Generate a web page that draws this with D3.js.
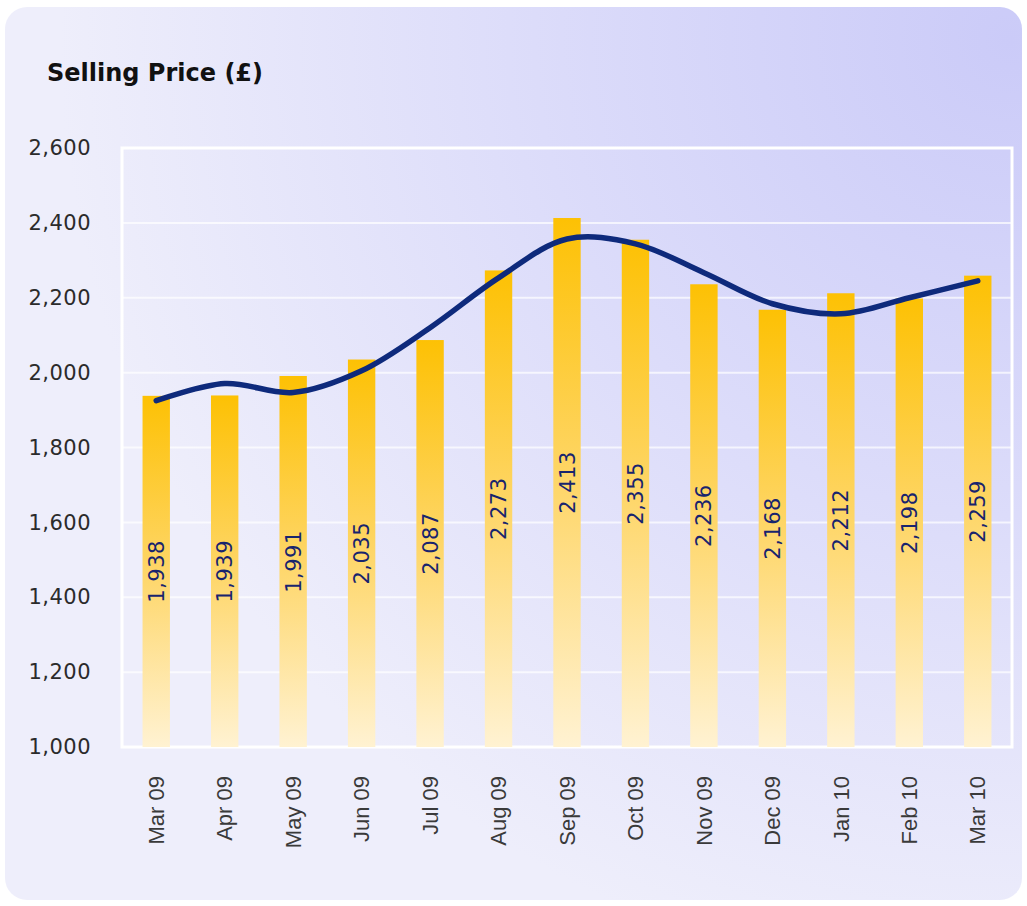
<!DOCTYPE html>
<html>
<head>
<meta charset="utf-8">
<script src="https://cdn.jsdelivr.net/npm/d3@7"></script>
<style>
  body { margin: 0; background: #fff; }
</style>
</head>
<body>
<div id="chart"></div>
<script>
const months = ["Mar 09", "Apr 09", "May 09", "Jun 09", "Jul 09", "Aug 09", "Sep 09",
  "Oct 09", "Nov 09", "Dec 09", "Jan 10", "Feb 10", "Mar 10"];
const prices = [1938, 1939, 1991, 2035, 2087, 2273, 2413, 2355, 2236, 2168, 2212, 2198, 2259];
// smoothed trend line
const trend = [1925, 1971, 1947, 2005, 2120, 2253, 2357, 2344, 2267, 2184, 2157, 2200, 2245];
const yTicks = [1000, 1200, 1400, 1600, 1800, 2000, 2200, 2400, 2600];

const width = 1027, height = 906,
  plot = ({ left: 122, right: 1012, top: 148, bottom: 747 });

const svg = d3.select("#chart")
  .append("svg")
  .attr("width", width)
  .attr("height", height);

const defs = svg.append("defs");

const bg = defs.append("radialGradient")
  .attr("id", "bg")
  .attr("gradientUnits", "userSpaceOnUse")
  .attr("cx", 1010).attr("cy", 40).attr("r", 950);
bg.append("stop").attr("offset", 0).attr("stop-color", "#cbcbf8");
bg.append("stop").attr("offset", 0.5).attr("stop-color", "#dcdcfa");
bg.append("stop").attr("offset", 1).attr("stop-color", "#eeeefb");

const barGrad = defs.append("linearGradient")
  .attr("id", "barGrad")
  .attr("x1", 0).attr("y1", 0).attr("x2", 0).attr("y2", 1);
barGrad.append("stop").attr("offset", 0).attr("stop-color", "#fdc104");
barGrad.append("stop").attr("offset", 0.5).attr("stop-color", "#fed668");
barGrad.append("stop").attr("offset", 1).attr("stop-color", "#fff2d2");

// panel
svg.append("rect")
  .attr("x", 5).attr("y", 7)
  .attr("width", 1017).attr("height", 893)
  .attr("rx", 22)
  .attr("fill", "url(#bg)");

svg.append("text")
  .attr("x", 47).attr("y", 81)
  .attr("font-family", "DejaVu Sans")
  .attr("font-weight", "bold")
  .attr("font-size", 24)
  .attr("fill", "#111")
  .text("Selling Price (£)");

const x = d3.scaleBand()
  .domain(months)
  .range([plot.left, plot.right])
  .paddingInner(0.6)
  .paddingOuter(0.3);

const y = d3.scaleLinear()
  .domain([1000, 2600])
  .range([plot.bottom, plot.top]);

// gridlines
svg.append("g")
  .selectAll("line")
  .data(yTicks.slice(1, -1))
  .join("line")
  .attr("x1", plot.left).attr("x2", plot.right)
  .attr("y1", d => y(d)).attr("y2", d => y(d))
  .attr("stroke", "#fff")
  .attr("stroke-opacity", 0.7)
  .attr("stroke-width", 2);

// frame
svg.append("rect")
  .attr("x", plot.left).attr("y", plot.top)
  .attr("width", plot.right - plot.left)
  .attr("height", plot.bottom - plot.top)
  .attr("fill", "none")
  .attr("stroke", "#fff")
  .attr("stroke-width", 3);

// y axis labels
const yAxis = svg.append("g")
  .attr("transform", `translate(${plot.left - 28},0)`)
  .call(d3.axisLeft(y).tickValues(yTicks).tickSize(0).tickFormat(d3.format(",")));
yAxis.select(".domain").remove();
yAxis.selectAll("text")
  .attr("font-family", "DejaVu Sans")
  .attr("font-size", 21)
  .attr("letter-spacing", 0.5)
  .attr("fill", "#2b2b2b");

// x axis labels
const xAxis = svg.append("g")
  .attr("transform", `translate(0,${plot.bottom})`)
  .call(d3.axisBottom(x).tickSize(0));
xAxis.select(".domain").remove();
xAxis.selectAll("text")
  .attr("font-family", "Liberation Sans")
  .attr("font-size", 22)
  .attr("fill", "#3a3a3a")
  .attr("text-anchor", "end")
  .attr("transform", "translate(0,29) rotate(-90)")
  .attr("dy", "0.35em")
  .attr("y", 0)
  .attr("x", 0);

const data = months.map((m, i) => ({ month: m, price: prices[i], trend: trend[i] }));

const bar = svg.selectAll(".bar")
  .data(data)
  .join("g")
  .attr("class", "bar");

bar.append("rect")
  .attr("fill", "url(#barGrad)")
  .attr("x", d => x(d.month))
  .attr("width", x.bandwidth())
  .attr("y", d => y(d.price))
  .attr("height", d => y(1000) - y(d.price));

bar.append("text")
  .text(d => d3.format(",")(d.price))
  .attr("transform", d => `translate(${x(d.month) + x.bandwidth() / 2},${(y(d.price) + y(1000)) / 2}) rotate(-90)`)
  .attr("text-anchor", "middle")
  .attr("dy", "0.36em")
  .attr("font-family", "DejaVu Sans")
  .attr("font-size", 21)
  .attr("letter-spacing", 0.5)
  .attr("fill", "#18246e");

const line = d3.line()
  .x(d => x(d.month) + x.bandwidth() / 2)
  .y(d => y(d.trend))
  .curve(d3.curveCatmullRom.alpha(0.5));

svg.append("path")
  .datum(data)
  .attr("d", line)
  .attr("fill", "none")
  .attr("stroke", "#0e2a7c")
  .attr("stroke-width", 5.5)
  .attr("stroke-linecap", "round");
</script>
</body>
</html>
